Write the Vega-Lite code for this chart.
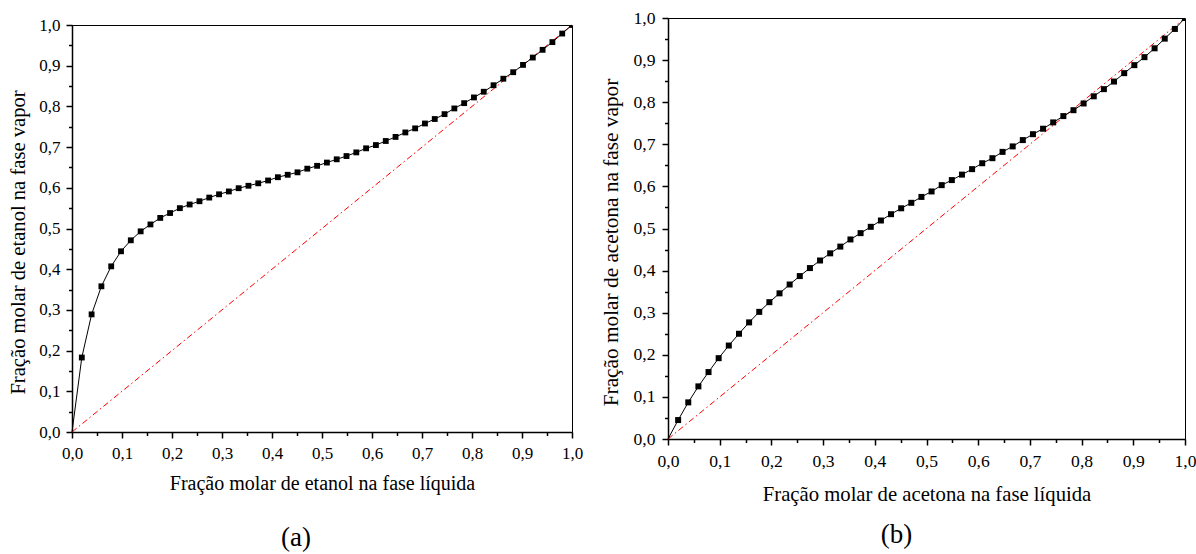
{
  "$schema": "https://vega.github.io/schema/vega-lite/v6.json",
  "background": "white",
  "padding": {"left": 8, "top": 8, "right": 0, "bottom": 0},
  "datasets": {
    "etanol": [
      {"x": 0, "y": 0},
      {"x": 0.0196, "y": 0.183}, {"x": 0.0392, "y": 0.289}, {"x": 0.0588, "y": 0.358}, {"x": 0.0784, "y": 0.407}, {"x": 0.0980, "y": 0.444},
      {"x": 0.1176, "y": 0.471}, {"x": 0.1373, "y": 0.493}, {"x": 0.1569, "y": 0.510}, {"x": 0.1765, "y": 0.526}, {"x": 0.1961, "y": 0.538},
      {"x": 0.2157, "y": 0.550}, {"x": 0.2353, "y": 0.559}, {"x": 0.2549, "y": 0.567}, {"x": 0.2745, "y": 0.576}, {"x": 0.2941, "y": 0.584},
      {"x": 0.3137, "y": 0.591}, {"x": 0.3333, "y": 0.599}, {"x": 0.3529, "y": 0.605}, {"x": 0.3725, "y": 0.611}, {"x": 0.3922, "y": 0.618},
      {"x": 0.4118, "y": 0.626}, {"x": 0.4314, "y": 0.632}, {"x": 0.4510, "y": 0.638}, {"x": 0.4706, "y": 0.647}, {"x": 0.4902, "y": 0.654},
      {"x": 0.5098, "y": 0.662}, {"x": 0.5294, "y": 0.670}, {"x": 0.5490, "y": 0.678}, {"x": 0.5686, "y": 0.687}, {"x": 0.5882, "y": 0.697},
      {"x": 0.6078, "y": 0.705}, {"x": 0.6275, "y": 0.715}, {"x": 0.6471, "y": 0.725}, {"x": 0.6667, "y": 0.736}, {"x": 0.6863, "y": 0.746},
      {"x": 0.7059, "y": 0.758}, {"x": 0.7255, "y": 0.769}, {"x": 0.7451, "y": 0.781}, {"x": 0.7647, "y": 0.795}, {"x": 0.7843, "y": 0.808},
      {"x": 0.8039, "y": 0.822}, {"x": 0.8235, "y": 0.836}, {"x": 0.8431, "y": 0.852}, {"x": 0.8627, "y": 0.868}, {"x": 0.8824, "y": 0.884},
      {"x": 0.9020, "y": 0.902}, {"x": 0.9216, "y": 0.920}, {"x": 0.9412, "y": 0.939}, {"x": 0.9608, "y": 0.958}, {"x": 0.9804, "y": 0.979},
      {"x": 1, "y": 1}
    ],
    "acetona": [
      {"x": 0, "y": 0},
      {"x": 0.0196, "y": 0.045}, {"x": 0.0392, "y": 0.087}, {"x": 0.0588, "y": 0.125}, {"x": 0.0784, "y": 0.159}, {"x": 0.0980, "y": 0.192},
      {"x": 0.1176, "y": 0.222}, {"x": 0.1373, "y": 0.250}, {"x": 0.1569, "y": 0.277}, {"x": 0.1765, "y": 0.302}, {"x": 0.1961, "y": 0.325},
      {"x": 0.2157, "y": 0.346}, {"x": 0.2353, "y": 0.367}, {"x": 0.2549, "y": 0.387}, {"x": 0.2745, "y": 0.406}, {"x": 0.2941, "y": 0.424},
      {"x": 0.3137, "y": 0.441}, {"x": 0.3333, "y": 0.457}, {"x": 0.3529, "y": 0.474}, {"x": 0.3725, "y": 0.489}, {"x": 0.3922, "y": 0.504},
      {"x": 0.4118, "y": 0.519}, {"x": 0.4314, "y": 0.534}, {"x": 0.4510, "y": 0.548}, {"x": 0.4706, "y": 0.561}, {"x": 0.4902, "y": 0.575},
      {"x": 0.5098, "y": 0.588}, {"x": 0.5294, "y": 0.603}, {"x": 0.5490, "y": 0.615}, {"x": 0.5686, "y": 0.628}, {"x": 0.5882, "y": 0.641},
      {"x": 0.6078, "y": 0.655}, {"x": 0.6275, "y": 0.667}, {"x": 0.6471, "y": 0.682}, {"x": 0.6667, "y": 0.695}, {"x": 0.6863, "y": 0.710},
      {"x": 0.7059, "y": 0.724}, {"x": 0.7255, "y": 0.737}, {"x": 0.7451, "y": 0.752}, {"x": 0.7647, "y": 0.767}, {"x": 0.7843, "y": 0.781},
      {"x": 0.8039, "y": 0.797}, {"x": 0.8235, "y": 0.814}, {"x": 0.8431, "y": 0.831}, {"x": 0.8627, "y": 0.849}, {"x": 0.8824, "y": 0.869},
      {"x": 0.9020, "y": 0.888}, {"x": 0.9216, "y": 0.907}, {"x": 0.9412, "y": 0.928}, {"x": 0.9608, "y": 0.951}, {"x": 0.9804, "y": 0.974},
      {"x": 1, "y": 1}
    ],
    "diagonal": [{"x": 0, "y": 0}, {"x": 1, "y": 1}]
  },
  "hconcat": [
    {
      "width": 500,
      "height": 407,
      "title": {"text": "(a)", "orient": "bottom", "offset": 32, "dx": -26},
      "encoding": {
        "x": {
          "field": "x", "type": "quantitative",
          "scale": {"domain": [0, 1], "nice": false, "zero": false},
          "axis": {
            "title": "Fração molar de etanol na fase líquida",
            "values": [0, 0.05, 0.1, 0.15, 0.2, 0.25, 0.3, 0.35, 0.4, 0.45, 0.5, 0.55, 0.6, 0.65, 0.7, 0.75, 0.8, 0.85, 0.9, 0.95, 1],
            "labelExpr": "round(datum.value*100) % 10 == 0 ? replace(format(datum.value, '.1f'), '.', ',') : ''",
            "tickSize": {"condition": {"test": "round(datum.value*100) % 10 != 0", "value": 3.5}, "value": 6},
            "labelFontSize": 17,
            "labelPadding": 7,
            "titleFontSize": 20,
            "titlePadding": 12
          }
        },
        "y": {
          "field": "y", "type": "quantitative",
          "scale": {"domain": [0, 1], "nice": false, "zero": false},
          "axis": {
            "title": "Fração molar de etanol na fase vapor",
            "values": [0, 0.05, 0.1, 0.15, 0.2, 0.25, 0.3, 0.35, 0.4, 0.45, 0.5, 0.55, 0.6, 0.65, 0.7, 0.75, 0.8, 0.85, 0.9, 0.95, 1],
            "labelExpr": "round(datum.value*100) % 10 == 0 ? replace(format(datum.value, '.1f'), '.', ',') : ''",
            "tickSize": {"condition": {"test": "round(datum.value*100) % 10 != 0", "value": 3.5}, "value": 6},
            "labelFontSize": 17,
            "labelPadding": 6,
            "titleFontSize": 20.6,
            "titlePadding": 10,
            "titleY": 217
          }
        }
      },
      "layer": [
        {"data": {"name": "diagonal"}, "mark": {"type": "line", "color": "#ff0000", "strokeWidth": 1, "strokeDash": [6, 3, 1.5, 3]}},
        {"data": {"name": "etanol"}, "mark": {"type": "line", "color": "black", "strokeWidth": 1}},
        {"data": {"name": "etanol"}, "transform": [{"filter": "datum.x > 0"}], "mark": {"type": "square", "color": "black", "filled": true, "opacity": 1, "size": 34, "clip": true}}
      ]
    },
    {
      "width": 517,
      "height": 421,
      "title": {"text": "(b)", "orient": "bottom", "offset": 18, "dx": -30},
      "encoding": {
        "x": {
          "field": "x", "type": "quantitative",
          "scale": {"domain": [0, 1], "nice": false, "zero": false},
          "axis": {
            "title": "Fração molar de acetona na fase líquida",
            "values": [0, 0.05, 0.1, 0.15, 0.2, 0.25, 0.3, 0.35, 0.4, 0.45, 0.5, 0.55, 0.6, 0.65, 0.7, 0.75, 0.8, 0.85, 0.9, 0.95, 1],
            "labelExpr": "round(datum.value*100) % 10 == 0 ? replace(format(datum.value, '.1f'), '.', ',') : ''",
            "tickSize": {"condition": {"test": "round(datum.value*100) % 10 != 0", "value": 3.5}, "value": 6},
            "labelFontSize": 17.6,
            "labelPadding": 7,
            "titleFontSize": 20.7,
            "titlePadding": 14.5
          }
        },
        "y": {
          "field": "y", "type": "quantitative",
          "scale": {"domain": [0, 1], "nice": false, "zero": false},
          "axis": {
            "title": "Fração molar de acetona na fase vapor",
            "values": [0, 0.05, 0.1, 0.15, 0.2, 0.25, 0.3, 0.35, 0.4, 0.45, 0.5, 0.55, 0.6, 0.65, 0.7, 0.75, 0.8, 0.85, 0.9, 0.95, 1],
            "labelExpr": "round(datum.value*100) % 10 == 0 ? replace(format(datum.value, '.1f'), '.', ',') : ''",
            "tickSize": {"condition": {"test": "round(datum.value*100) % 10 != 0", "value": 3.5}, "value": 6},
            "labelFontSize": 17.6,
            "labelPadding": 7,
            "titleFontSize": 21.3,
            "titlePadding": 12,
            "titleY": 224
          }
        }
      },
      "layer": [
        {"data": {"name": "diagonal"}, "mark": {"type": "line", "color": "#ff0000", "strokeWidth": 1, "strokeDash": [6, 3, 1.5, 3]}},
        {"data": {"name": "acetona"}, "mark": {"type": "line", "color": "black", "strokeWidth": 1}},
        {"data": {"name": "acetona"}, "transform": [{"filter": "datum.x > 0"}], "mark": {"type": "square", "color": "black", "filled": true, "opacity": 1, "size": 36, "clip": true}}
      ]
    }
  ],
  "spacing": 96,
  "bounds": "flush",
  "center": true,
  "config": {
    "font": "Liberation Serif",
    "view": {"stroke": "black", "strokeWidth": 1},
    "axis": {
      "grid": false,
      "labelFont": "Liberation Serif",
      "labelColor": "black",
      "labelFlush": false,
      "labelOverlap": false,
      "titleFont": "Liberation Serif",
      "titleFontWeight": "normal",
      "titleColor": "black",
      "domainColor": "black",
      "domainWidth": 1.5,
      "tickColor": "black",
      "tickWidth": 1.5
    },
    "title": {"font": "Liberation Serif", "fontSize": 27, "fontWeight": "normal", "color": "black"}
  }
}
